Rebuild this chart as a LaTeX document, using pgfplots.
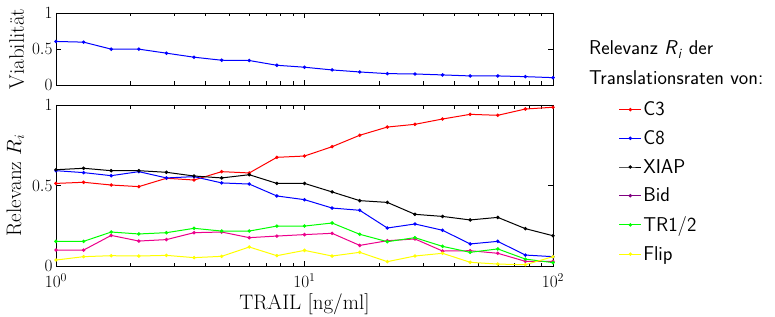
\documentclass[border=0pt]{standalone}
\usepackage{pgfplots}
\pgfplotsset{compat=1.18}
\usepackage{pgfplotstable}
\definecolor{bidleg}{rgb}{0.5,0,0.5}
\definecolor{myyellow}{rgb}{1,1,0}
\definecolor{mygreen}{rgb}{0,1,0}
\pgfplotstableread{
x viab c3 c8 xiap bid tr flip
1      0.605 0.513 0.592 0.598 0.099 0.153 0.037
1.2915 0.595 0.520 0.580 0.607 0.099 0.153 0.058
1.6681 0.498 0.503 0.561 0.592 0.190 0.211 0.064
2.1544 0.498 0.493 0.586 0.592 0.155 0.199 0.062
2.7826 0.442 0.545 0.547 0.582 0.164 0.207 0.066
3.5938 0.386 0.534 0.555 0.559 0.207 0.234 0.052
4.6416 0.344 0.586 0.516 0.547 0.211 0.217 0.060
5.9948 0.340 0.578 0.509 0.567 0.176 0.217 0.118
7.7426 0.274 0.675 0.435 0.513 0.186 0.248 0.064
10     0.247 0.683 0.412 0.513 0.195 0.248 0.097
12.915 0.209 0.741 0.360 0.460 0.203 0.267 0.062
16.681 0.181 0.812 0.346 0.406 0.128 0.197 0.085
21.544 0.158 0.863 0.236 0.395 0.157 0.151 0.027
27.826 0.153 0.880 0.261 0.321 0.168 0.176 0.062
35.938 0.140 0.913 0.222 0.308 0.093 0.122 0.079
46.416 0.126 0.942 0.137 0.286 0.095 0.085 0.023
59.948 0.126 0.936 0.153 0.302 0.079 0.106 0.012
77.426 0.116 0.975 0.068 0.232 0.029 0.043 0.008
100    0.102 0.986 0.058 0.188 0.029 0.021 0.058
}\data
\begin{document}
\begin{tikzpicture}
\useasboundingbox (-56bp,-51bp) rectangle (719bp,266bp);
\begin{axis}[at={(0bp,181bp)}, anchor=south west,
  width=497bp, height=72bp, scale only axis,
  xmode=log, xmin=1, xmax=100, ymin=0, ymax=1,
  ytick={0,0.5,1},
  axis line style={line width=0.9bp},
  major tick length=5bp, minor tick length=3.5bp,
  tick style={line width=0.7bp, black},
  tick label style={font=\fontsize{18bp}{20bp}\selectfont},
  ylabel style={font=\fontsize{21bp}{24bp}\selectfont, yshift=1bp},
  xticklabels={}, ylabel={Viabilit\"at}]
\addplot[blue, line width=1bp, mark=*, mark size=1.2bp] table[x=x,y=viab]{\data};
\end{axis}
\begin{axis}[at={(0bp,0bp)}, anchor=south west,
  width=497bp, height=161bp, scale only axis,
  xmode=log, xmin=1, xmax=100, ymin=0, ymax=1,
  ytick={0,0.5,1},
  axis line style={line width=0.9bp},
  major tick length=5bp, minor tick length=3.5bp,
  tick style={line width=0.7bp, black},
  tick label style={font=\fontsize{18bp}{20bp}\selectfont},
  xticklabel style={yshift=-4bp},
  xlabel style={font=\fontsize{21bp}{24bp}\selectfont, yshift=1bp},
  ylabel style={font=\fontsize{21bp}{24bp}\selectfont, yshift=1bp},
  ylabel={Relevanz $R_i$}, xlabel={TRAIL [ng/ml]},
  legend entries={C3,C8,XIAP,Bid,TR1/2,Flip},
  legend cell align=left,
  legend image code/.code={\draw[mark repeat=2,mark phase=2] plot coordinates {(0bp,0bp) (11bp,0bp) (22bp,0bp)};},
  legend style={draw=none, fill=none, at={(1.126,1.042)}, anchor=north west,
    font=\sffamily\fontsize{20bp}{23bp}\selectfont, row sep=10.3bp,
    nodes={inner sep=1.5bp}},
]
\addplot[red, line width=1bp, mark=*, mark size=1.2bp] table[x=x,y=c3]{\data};
\addplot[blue, line width=1bp, mark=*, mark size=1.2bp] table[x=x,y=c8]{\data};
\addplot[black, line width=1bp, mark=*, mark size=1.2bp] table[x=x,y=xiap]{\data};
\addplot[magenta, line width=1bp, mark=*, mark size=1.2bp, forget plot] table[x=x,y=bid]{\data};
\addlegendimage{bidleg, line width=1bp, mark=*, mark size=1.2bp}
\addplot[mygreen, line width=1bp, mark=*, mark size=1.2bp] table[x=x,y=tr]{\data};
\addplot[myyellow, line width=1bp, mark=*, mark size=1.2bp] table[x=x,y=flip]{\data};
\end{axis}
\node[anchor=base west, font=\sffamily\fontsize{20bp}{23bp}\selectfont, inner sep=0] at (533bp,211bp) {Relevanz \textit{R}\textsubscript{\textit{i}} der};
\node[anchor=base west, font=\sffamily\fontsize{20bp}{23bp}\selectfont, inner sep=0] at (533bp,181bp) {Translationsraten von:};
\end{tikzpicture}
\end{document}
